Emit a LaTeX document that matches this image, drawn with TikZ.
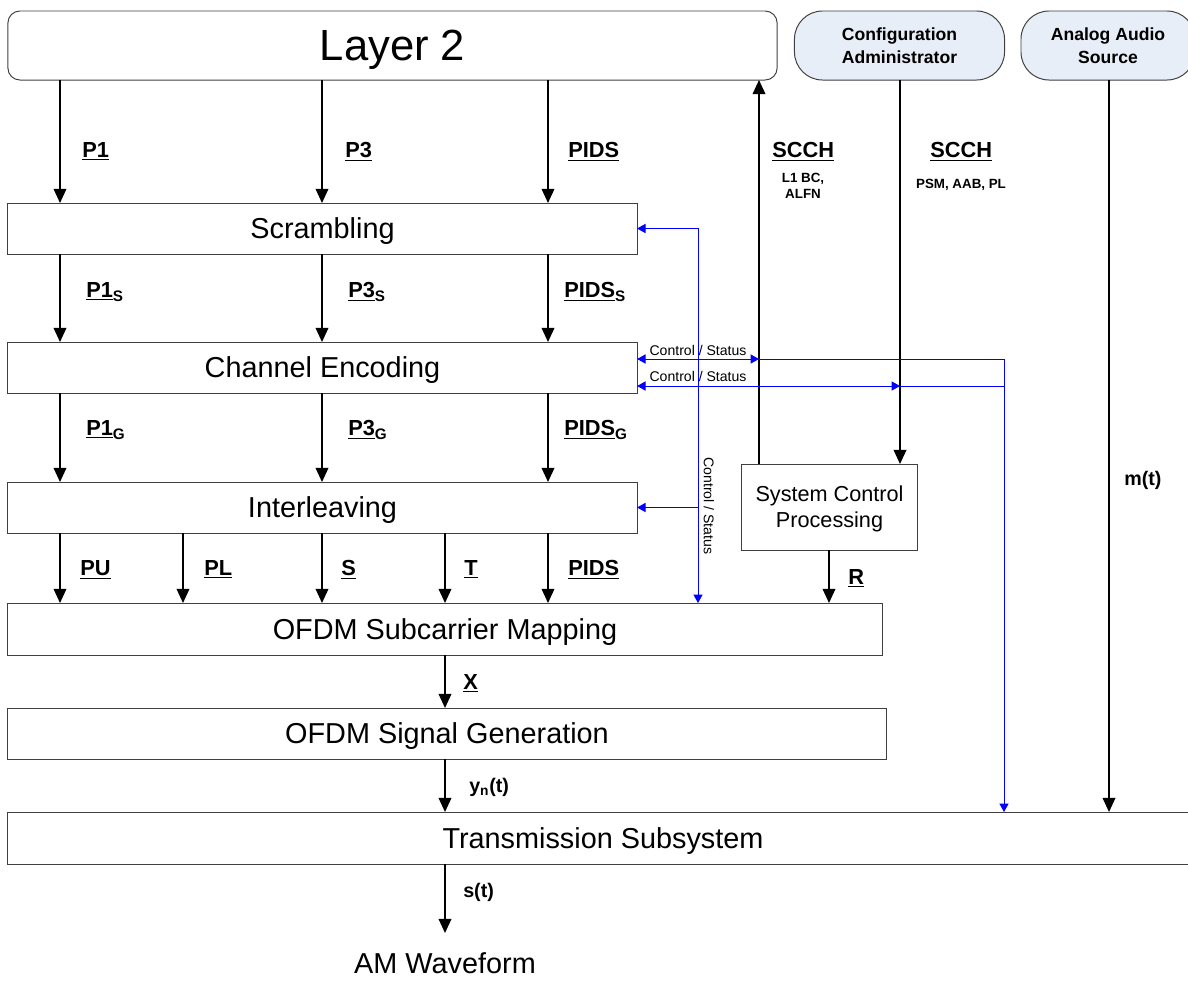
\documentclass[tikz,border=0pt]{standalone}
\usepackage{fontspec}
\setmainfont{Liberation Sans}
\usetikzlibrary{arrows.meta}
\definecolor{cfgfill}{RGB}{232,238,247}
\definecolor{edgegray}{RGB}{64,64,64}
\begin{document}
\begin{tikzpicture}[x=0.025cm,y=-0.025cm,
  block/.style={shape=rectangle,draw=edgegray,line width=0.7pt,inner sep=0pt,outer sep=0pt,text depth=0pt,minimum height=1.275cm,font=\fontsize{20.5}{24}\selectfont},
  layer/.style={block,rounded corners=0.3cm,minimum height=1.725cm,font=\fontsize{31}{36}\selectfont},
  source/.style={block,rounded corners=0.7cm,fill=cfgfill,minimum height=1.725cm,align=center,font=\bfseries\fontsize{12.5}{16}\selectfont},
  flow/.style={line width=1pt,-{Triangle[length=10pt,width=9pt]}},
  ctrl/.style={blue,line width=0.7pt,>={Triangle[length=6pt,width=6.5pt]}},
  lbl/.style={anchor=west,inner sep=0pt,text height=11pt,text depth=0pt,font=\bfseries\fontsize{15.5}{18}\selectfont},
  sig/.style={anchor=west,inner sep=0pt,font=\bfseries\fontsize{14}{17}\selectfont},
  note/.style={align=center,inner sep=0pt,font=\bfseries\fontsize{9.5}{11.5}\selectfont},
  cstext/.style={inner sep=0pt,font=\fontsize{10}{12}\selectfont}]
\useasboundingbox (0,0) rectangle (1188,980);
\coordinate (colP1) at (60,0);
\coordinate (colPL) at (183,0);
\coordinate (colP3) at (322,0);
\coordinate (colX) at (445,0);
\coordinate (colPIDS) at (548,0);
\coordinate (colCS) at (698,0);
\coordinate (colSCCH) at (759,0);
\coordinate (colR) at (829,0);
\coordinate (colCfg) at (900,0);
\coordinate (colTx) at (1004,0);
\coordinate (colAudio) at (1109,0);
\coordinate (rowCSa) at (0,359);
\coordinate (rowCSb) at (0,386);
\node[layer,minimum width=19.225cm] (L2) at (392.5,45.5) {Layer 2};
\node[source,minimum width=5.25cm] (CA) at (899.5,45.5) {Configuration\\Administrator};
\node[source,minimum width=4.35cm] (AA) at (1108,45.5) {Analog Audio\\Source};
\node[block,minimum width=15.725cm] (SC) at (322.5,228.5) {Scrambling};
\node[block,minimum width=15.725cm] (CE) at (322.5,367.5) {Channel Encoding};
\node[block,minimum width=15.725cm] (IL) at (322.5,507.5) {Interleaving};
\node[block,minimum width=21.85cm,minimum height=1.3cm] (MAP) at (445,629) {OFDM Subcarrier Mapping};
\node[block,minimum width=21.95cm] (GEN) at (447,733.5) {OFDM Signal Generation};
\node[block,minimum width=29.75cm,minimum height=1.3cm] (TX) at (603,838) {Transmission Subsystem};
\node[block,minimum width=4.375cm,minimum height=2.15cm,align=center,font=\fontsize{15.4}{18.5}\selectfont] (SCP) at (829.5,507) {System Control\\Processing};
\node[anchor=north,inner sep=0pt,outer ysep=0.5cm,font=\fontsize{20.5}{24}\selectfont] (AM) at (445,933) {AM Waveform};
\draw[flow] (L2.south -| colP1) -- (SC.north -| colP1);
\draw[flow] (L2.south -| colP3) -- (SC.north -| colP3);
\draw[flow] (L2.south -| colPIDS) -- (SC.north -| colPIDS);
\draw[flow] (SC.south -| colP1) -- (CE.north -| colP1);
\draw[flow] (SC.south -| colP3) -- (CE.north -| colP3);
\draw[flow] (SC.south -| colPIDS) -- (CE.north -| colPIDS);
\draw[flow] (CE.south -| colP1) -- (IL.north -| colP1);
\draw[flow] (CE.south -| colP3) -- (IL.north -| colP3);
\draw[flow] (CE.south -| colPIDS) -- (IL.north -| colPIDS);
\draw[flow] (IL.south -| colP1) -- (MAP.north -| colP1);
\draw[flow] (IL.south -| colPL) -- (MAP.north -| colPL);
\draw[flow] (IL.south -| colP3) -- (MAP.north -| colP3);
\draw[flow] (IL.south -| colX) -- (MAP.north -| colX);
\draw[flow] (IL.south -| colPIDS) -- (MAP.north -| colPIDS);
\draw[flow] (SCP.north -| colSCCH) -- (L2.south -| colSCCH);
\draw[flow] (CA.south -| colCfg) -- (SCP.north -| colCfg);
\draw[flow] (SCP.south -| colR) -- (MAP.north -| colR);
\draw[flow] (AA.south -| colAudio) -- (TX.north -| colAudio);
\draw[flow] (MAP.south -| colX) -- (GEN.north -| colX);
\draw[flow] (GEN.south -| colX) -- (TX.north -| colX);
\draw[flow] (TX.south -| colX) -- (AM.north);
\draw[ctrl,<->] (SC.east) -| (MAP.north -| colCS);
\draw[ctrl,->] (IL.east -| colCS) -- (IL.east);
\draw[ctrl,<->] (CE.east |- rowCSa) -- (rowCSa -| colSCCH);
\draw[ctrl,->] (rowCSa -| colSCCH) -| (TX.north -| colTx);
\draw[ctrl,<->] (CE.east |- rowCSb) -- (rowCSb -| colCfg);
\draw[ctrl] (rowCSb -| colCfg) -- (rowCSb -| colTx);
\node[cstext] (csA) at (698,350) {Control / Status};
\node[cstext] (csB) at (698,376) {Control / Status};
\node[cstext,rotate=-90] (csC) at (709,506) {Control / Status};
\node[lbl] (lP1) at (82,150) {\underline{P1}};
\node[lbl] (lP3) at (345,150) {\underline{P3}};
\node[lbl] (lPIDS) at (568,150) {\underline{PIDS}};
\node[lbl] (lP1s) at (86,290) {\underline{P1}\textsubscript{S}};
\node[lbl] (lP3s) at (348,290) {\underline{P3}\textsubscript{S}};
\node[lbl] (lPIDSs) at (564,290) {\underline{PIDS}\textsubscript{S}};
\node[lbl] (lP1g) at (86,428) {\underline{P1}\textsubscript{G}};
\node[lbl] (lP3g) at (348,428) {\underline{P3}\textsubscript{G}};
\node[lbl] (lPIDSg) at (564,428) {\underline{PIDS}\textsubscript{G}};
\node[lbl] (lPU) at (80,568) {\underline{PU}};
\node[lbl] (lPL) at (204,568) {\underline{PL}};
\node[lbl] (lS) at (341,568) {\underline{S}};
\node[lbl] (lT) at (464,568) {\underline{T}};
\node[lbl] (lPIDSi) at (568,568) {\underline{PIDS}};
\node[lbl] (lSCCHa) at (772,150) {\underline{SCCH}};
\node[note] (nL1) at (803,186) {L1 BC,\\ALFN};
\node[lbl] (lSCCHb) at (930,150) {\underline{SCCH}};
\node[note] (nPSM) at (961,185) {PSM, AAB, PL};
\node[lbl] (lR) at (848,577) {\underline{R}};
\node[lbl] (lX) at (463,682) {\underline{X}};
\node[sig] (lyn) at (469,787) {y\textsubscript{n}(t)};
\node[sig] (ls) at (463,892) {s(t)};
\node[sig] (lm) at (1124,480) {m(t)};
\end{tikzpicture}
\end{document}
